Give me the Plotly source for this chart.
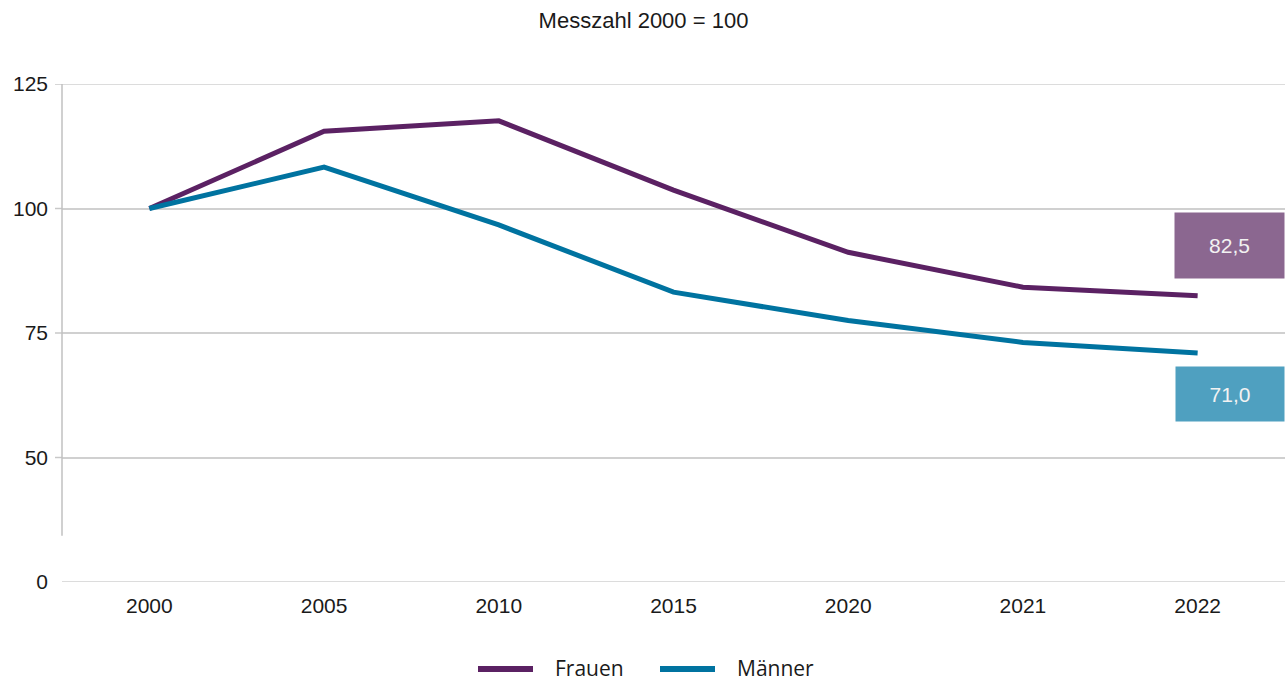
import plotly.graph_objects as go

years = ["2000", "2005", "2010", "2015", "2020", "2021", "2022"]
frauen = [100, 115.5, 117.6, 103.7, 91.2, 84.2, 82.5]
maenner = [100, 108.3, 96.7, 83.2, 77.5, 73.1, 71.0]
tick_vals = [25, 50, 75, 100, 125]
tick_text = ["0", "50", "75", "100", "125"]
series_names = ["Frauen", "Männer"]

c_fr = "#5b2163"
c_ma = "#0073a0"

W, H = 1287, 682
L, R, T, B = 62, 2, 84, 100
pw, ph = W - L - R, H - T - B


def px(x):
    return (x - L) / pw


def py(y):
    return (H - B - y) / ph


fig = go.Figure()
fig.add_trace(go.Scatter(x=years, y=frauen, mode="lines", name=series_names[0],
                         line=dict(color=c_fr, width=5), showlegend=False))
fig.add_trace(go.Scatter(x=years, y=maenner, mode="lines", name=series_names[1],
                         line=dict(color=c_ma, width=5), showlegend=False))

fig.update_layout(
    width=W, height=H,
    margin=dict(l=L, r=R, t=T, b=B, autoexpand=False),
    paper_bgcolor="white", plot_bgcolor="white",
    font=dict(family="Liberation Sans, Arial", size=21, color="#1a1a1a"),
    title=dict(text="Messzahl 2000 = 100", x=0.5, xanchor="center", xref="container",
               yref="container", y=1 - 20 / H, yanchor="middle",
               font=dict(size=22, color="#1a1a1a")),
    showlegend=False,
)
fig.update_xaxes(type="category", range=[-0.5, 6.5], showgrid=False, showline=False,
                 zeroline=False, ticks="", ticklabelstandoff=9, automargin=False,
                 tickfont=dict(size=21))
fig.update_yaxes(range=[25, 125], tickvals=tick_vals, ticktext=tick_text, showgrid=True,
                 gridcolor="#d0d0d0", gridwidth=1.5, zeroline=False, showline=False,
                 ticks="", ticklabelstandoff=13, automargin=False,
                 tickfont=dict(size=21))

# top gridline and base line (the "0" line)
fig.add_shape(type="line", xref="paper", yref="y", x0=0, x1=1, y0=125, y1=125,
              line=dict(color="#d0d0d0", width=1.5))
fig.add_shape(type="line", xref="paper", yref="y", x0=0, x1=1, y0=25, y1=25,
              line=dict(color="#d0d0d0", width=1.5))
# small outside tick marks on the upper part of the broken axis
for v in tick_vals[1:]:
    fig.add_shape(type="line", xref="paper", yref="y", x0=px(55), x1=0, y0=v, y1=v,
                  line=dict(color="#c8c8c8", width=1.5))
# broken y-axis line
fig.add_shape(type="line", xref="paper", yref="y", x0=0, x1=0, y0=125, y1=34.3,
              line=dict(color="#c0c0c0", width=1.5))

fig.add_annotation(x=6, y=frauen[-1], text="82,5", showarrow=False, xshift=32, yshift=50,
                   bgcolor="#8b6790", width=105, height=61, borderpad=2,
                   font=dict(color="#f2f2f2", size=21))
fig.add_annotation(x=6, y=maenner[-1], text="71,0", showarrow=False, xshift=32, yshift=-41,
                   bgcolor="#4fa0c0", width=104, height=50, borderpad=2,
                   font=dict(color="#f2f2f2", size=21))

# manual legend
leg_y = py(668)
for name, col, x0, x1, xt in [(series_names[0], c_fr, 478, 533, 554),
                              (series_names[1], c_ma, 660, 715, 736)]:
    fig.add_shape(type="line", xref="paper", yref="paper", x0=px(x0), x1=px(x1),
                  y0=py(669), y1=py(669), line=dict(color=col, width=6))
    fig.add_annotation(xref="paper", yref="paper", x=px(xt), y=leg_y, text=name,
                       showarrow=False, xanchor="left", yanchor="middle", borderpad=0,
                       font=dict(family="Open Sans, Noto Sans", size=21, color="#1a1a1a"))

fig.write_html("out.html", config={"displayModeBar": False},
               post_script="document.body.style.margin='0';document.body.style.overflow='hidden';")
